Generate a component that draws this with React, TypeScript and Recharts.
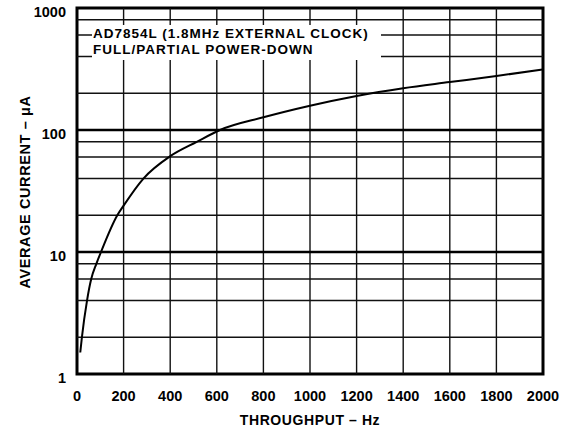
import React from 'react';
import {
  LineChart,
  Line,
  XAxis,
  YAxis,
  ReferenceLine,
  ReferenceArea,
  Label,
} from 'recharts';

document.body.style.margin = '0';

// curve
const throughputHz = [14, 21, 43, 61, 83, 103, 173, 200, 285, 400, 514, 614, 800, 1000, 1200, 1400, 1600, 1800, 2000];
const currentUA = [1.5, 2, 4, 6, 8, 10, 20, 24, 40, 61, 80, 100, 127, 158, 190, 220, 247, 277, 314];

const xTicks = [0, 200, 400, 600, 800, 1000, 1200, 1400, 1600, 1800, 2000];
const yTicks = [1, 10, 100, 1000];
const xGrid = [200, 400, 600, 800, 1000, 1200, 1400, 1600, 1800];
const yGridMinor = [2, 4, 6, 8, 20, 40, 60, 80, 200, 400, 600, 800];
const yGridMajor = [10, 100];

const legendLines = ['AD7854L (1.8MHz EXTERNAL CLOCK)', 'FULL/PARTIAL POWER-DOWN'];

const data = throughputHz.map((hz, i) => ({ hz, ua: currentUA[i] }));

const FONT = '"Liberation Sans", Arial, sans-serif';

const XTick = ({ x, y, payload }: any) => (
  <text x={x} y={y + 27} textAnchor="middle" fontFamily={FONT} fontSize={14.5} fontWeight="bold" fill="#000">
    {payload.value}
  </text>
);

const YTick = ({ x, y, payload }: any) => (
  <text x={x - 11} y={y + 9} textAnchor="end" fontFamily={FONT} fontSize={14.5} fontWeight="bold" fill="#000">
    {payload.value}
  </text>
);

export default function App() {
  return (
    <div style={{ position: 'relative', width: 566, height: 432, background: '#fff', fontFamily: FONT }}>
      <LineChart width={566} height={432} data={data} margin={{ top: 8, right: 23, bottom: 38, left: 0 }}>
        <XAxis
          dataKey="hz"
          type="number"
          domain={[0, 2000]}
          ticks={xTicks}
          interval={0}
          height={20}
          axisLine={false}
          tickLine={false}
          tickSize={0}
          tickMargin={0}
          tick={<XTick />}
        >
          <Label
            content={() => (
              <text x={310} y={425} textAnchor="middle" fontFamily={FONT} fontSize={14} fontWeight="bold" letterSpacing={0.6} fill="#000">
                THROUGHPUT – Hz
              </text>
            )}
          />
        </XAxis>
        <YAxis
          scale="log"
          domain={[1, 1000]}
          ticks={yTicks}
          interval={0}
          width={77}
          axisLine={false}
          tickLine={false}
          tickSize={0}
          tickMargin={0}
          tick={<YTick />}
        >
          <Label
            content={() => (
              <text
                x={30}
                y={192}
                transform="rotate(-90 30 192)"
                textAnchor="middle"
                fontFamily={FONT}
                fontSize={14.5}
                fontWeight="bold"
                letterSpacing={0.6}
                fill="#000"
              >
                AVERAGE CURRENT – μA
              </text>
            )}
          />
        </YAxis>

        {xGrid.map((v) => (
          <ReferenceLine key={`vx-${v}`} x={v} stroke="#111" strokeWidth={1.4} />
        ))}
        {yGridMinor.map((v) => (
          <ReferenceLine key={`hy-${v}`} y={v} stroke="#111" strokeWidth={1.4} />
        ))}
        {yGridMajor.map((v) => (
          <ReferenceLine key={`hY-${v}`} y={v} stroke="#000" strokeWidth={2.4} />
        ))}

        <Line
          type="monotone"
          dataKey="ua"
          stroke="#000"
          strokeWidth={2}
          dot={false}
          isAnimationActive={false}
        />

        <ReferenceArea x1={0} x2={2000} y1={1} y2={1000} fill="none" fillOpacity={0} stroke="#000" strokeWidth={3} />
      </LineChart>

      <div
        style={{
          position: 'absolute',
          left: 92,
          top: 25,
          width: 289,
          height: 35,
          background: '#fff',
          paddingLeft: 1,
          paddingTop: 1,
          boxSizing: 'border-box',
          fontSize: 13.5,
          fontWeight: 'bold',
          lineHeight: '16px',
          letterSpacing: 1,
          whiteSpace: 'nowrap',
          color: '#000',
        }}
      >
        {legendLines.map((t) => (
          <div key={t}>{t}</div>
        ))}
      </div>
    </div>
  );
}
